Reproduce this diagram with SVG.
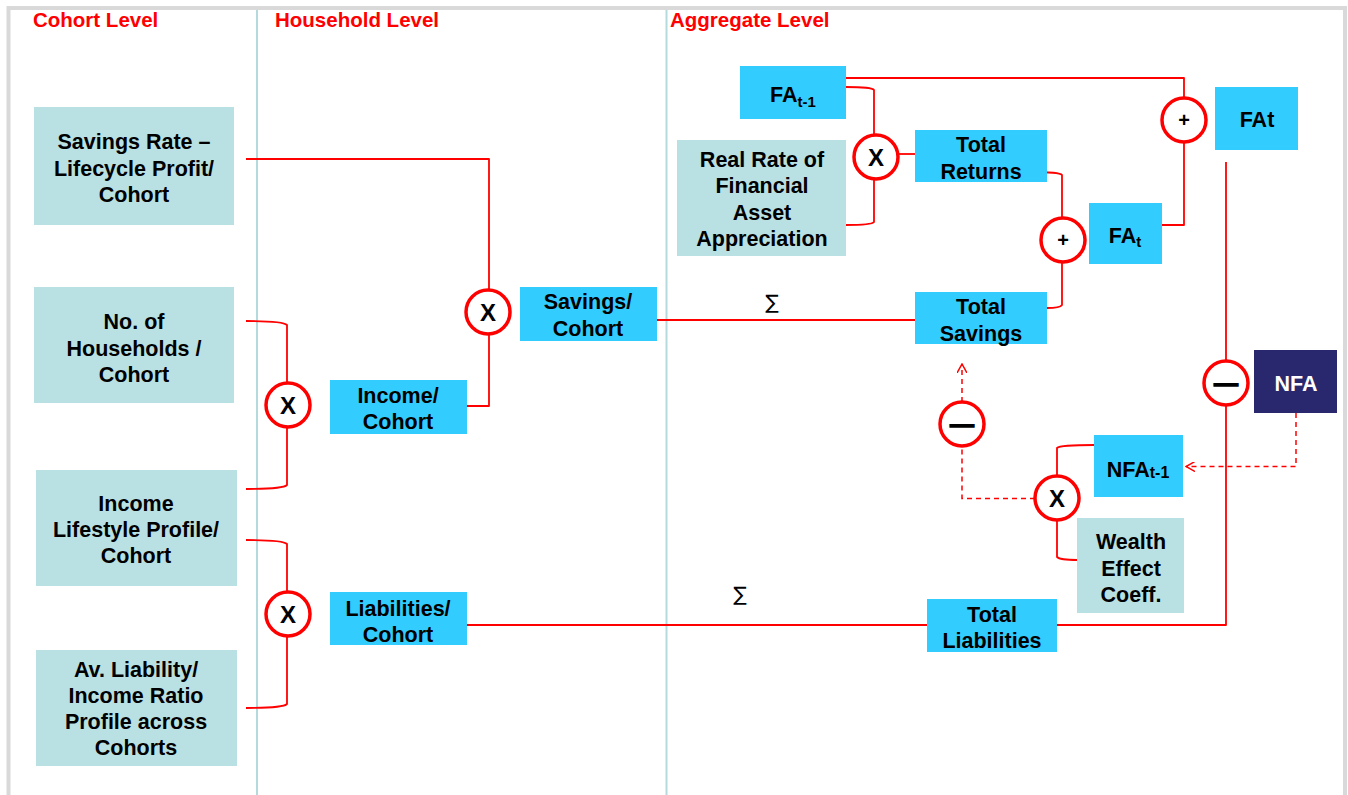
<svg xmlns="http://www.w3.org/2000/svg" width="1348" height="795" viewBox="0 0 1348 795">
<defs>
<style>
.hdr{font-family:"Liberation Sans",Arial,sans-serif;font-weight:bold;font-size:20.5px;fill:#ff0000}
.t{font-family:"Liberation Sans",Arial,sans-serif;font-weight:bold;font-size:21.5px;fill:#000;text-anchor:middle}
.sub{font-size:15px}
.teal{fill:#b9e0e3}
.blue{fill:#33ccff}
.op{fill:#fff;stroke:#ff0000;stroke-width:3.5}
.opt{font-family:"Liberation Sans",Arial,sans-serif;font-weight:bold;fill:#000;text-anchor:middle}
.c{fill:none;stroke:#ff0000;stroke-width:1.8;stroke-linejoin:round}
.d{fill:none;stroke:#ff0000;stroke-width:1.5;stroke-dasharray:5,4}
.div{stroke:#b5dadd;stroke-width:2}
.sig{font-family:"DejaVu Sans","Liberation Sans",sans-serif;font-size:20px;fill:#000;text-anchor:middle}
</style>
<marker id="arr" viewBox="0 0 10 10" refX="9" refY="5" markerWidth="10" markerHeight="10" markerUnits="userSpaceOnUse" orient="auto">
<path d="M0,0 L9,5 L0,10" fill="none" stroke="#ff0000" stroke-width="1.5"/>
</marker>
</defs>
<rect x="0" y="0" width="1348" height="795" fill="#fff"/>
<path d="M8.5,800 V8 H1345 V800" fill="none" stroke="#d9d9d9" stroke-width="4"/>
<g id="dividers">
<line class="div" x1="257" y1="10" x2="257" y2="795"/>
<line class="div" x1="666.5" y1="10" x2="666.5" y2="795"/>
</g>
<g id="headers">
<text class="hdr" x="33" y="27">Cohort Level</text>
<text class="hdr" x="275" y="27">Household Level</text>
<text class="hdr" x="670" y="27">Aggregate Level</text>
</g>

<g id="connectors">
<path class="c" d="M246,159 H489 V290"/>
<path class="c" d="M467,406 H489 V334"/>
<path class="c" d="M246,321 Q283,321 287,325 V383"/>
<path class="c" d="M287,427 V485 Q283,489 246,489"/>
<path class="c" d="M246,540 Q283,540 287,544 V592"/>
<path class="c" d="M287,636 V704 Q283,708 246,708"/>
<path class="c" d="M657,320 H915"/>
<path class="c" d="M467,625 H927"/>
<path class="c" d="M1057,625 H1226 V405"/>
<path class="c" d="M1226,361 V162"/>
<path class="c" d="M846,87 Q872,87 874,90 V135"/>
<path class="c" d="M846,225 Q872,225 874,222 V179"/>
<path class="c" d="M898,154 H915"/>
<path class="c" d="M846,78 H1184 V98"/>
<path class="c" d="M1184,142 V225 H1162"/>
<path class="c" d="M1030,172 Q1060,172 1062,175 V218"/>
<path class="c" d="M1047,308 Q1060,308 1062,305 V262"/>
<path class="c" d="M1094,445 Q1060,445 1057,448 V476"/>
<path class="c" d="M1057,520 V557 Q1060,560 1077,560"/>
<path class="d" d="M1296,413 V466.5 H1186" marker-end="url(#arr)"/>
<path class="d" d="M1035,498.5 H962 V446"/>
<path class="d" d="M962,402 V364" marker-end="url(#arr)"/>
<text class="sig" x="772" y="309">∑</text>
<text class="sig" x="740" y="601">∑</text>
</g>

<g id="n-savings-rate"><rect class="teal" x="34" y="107" width="200" height="118"/>
<text class="t" x="134" y="149">Savings Rate –</text><text class="t" x="134" y="176">Lifecycle Profit/</text><text class="t" x="134" y="202">Cohort</text></g>
<g id="n-households"><rect class="teal" x="34" y="287" width="200" height="116"/>
<text class="t" x="134" y="329">No. of</text><text class="t" x="134" y="356">Households /</text><text class="t" x="134" y="382">Cohort</text></g>
<g id="n-income-profile"><rect class="teal" x="36" y="470" width="201" height="116"/>
<text class="t" x="136" y="511">Income</text><text class="t" x="136" y="537">Lifestyle Profile/</text><text class="t" x="136" y="563">Cohort</text></g>
<g id="n-liability-ratio"><rect class="teal" x="36" y="650" width="201" height="116"/>
<text class="t" x="136" y="677">Av. Liability/</text><text class="t" x="136" y="703">Income Ratio</text><text class="t" x="136" y="729">Profile across</text><text class="t" x="136" y="755">Cohorts</text></g>

<g id="op-x1"><circle class="op" cx="288" cy="405" r="22"/><text class="opt" x="288" y="414" font-size="24">X</text></g>
<g id="op-x2"><circle class="op" cx="488" cy="312" r="22"/><text class="opt" x="488" y="321" font-size="24">X</text></g>
<g id="op-x3"><circle class="op" cx="288" cy="614" r="22"/><text class="opt" x="288" y="623" font-size="24">X</text></g>

<g id="n-income-cohort"><rect class="blue" x="330" y="380" width="137" height="54"/>
<text class="t" x="398" y="403">Income/</text><text class="t" x="398" y="429">Cohort</text></g>
<g id="n-savings-cohort"><rect class="blue" x="520" y="287" width="137" height="54"/>
<text class="t" x="588" y="309">Savings/</text><text class="t" x="588" y="336">Cohort</text></g>
<g id="n-liabilities-cohort"><rect class="blue" x="330" y="592" width="137" height="53"/>
<text class="t" x="398" y="616">Liabilities/</text><text class="t" x="398" y="642">Cohort</text></g>

<g id="n-fa-t1"><rect class="blue" x="740" y="66" width="106" height="53"/>
<text class="t" x="793" y="102">FA<tspan class="sub" dy="5">t-1</tspan></text></g>
<g id="n-real-rate"><rect class="teal" x="677" y="140" width="169" height="116"/>
<text class="t" x="762" y="167">Real Rate of</text><text class="t" x="762" y="193">Financial</text><text class="t" x="762" y="220">Asset</text><text class="t" x="762" y="246">Appreciation</text></g>
<g id="op-x4"><circle class="op" cx="876" cy="157" r="22"/><text class="opt" x="876" y="166" font-size="24">X</text></g>
<g id="n-total-returns"><rect class="blue" x="915" y="130" width="132" height="52"/>
<text class="t" x="981" y="152">Total</text><text class="t" x="981" y="179">Returns</text></g>
<g id="op-plus1"><circle class="op" cx="1184" cy="120" r="22"/><text class="opt" x="1184" y="127" font-size="20">+</text></g>
<g id="n-fat"><rect class="blue" x="1215" y="87" width="83" height="63"/>
<text class="t" x="1257" y="127">FAt</text></g>
<g id="op-plus2"><circle class="op" cx="1063" cy="240" r="22"/><text class="opt" x="1063" y="247" font-size="20">+</text></g>
<g id="n-fa-t"><rect class="blue" x="1089" y="203" width="73" height="61"/>
<text class="t" x="1125" y="243">FA<tspan class="sub" dy="4">t</tspan></text></g>
<g id="n-total-savings"><rect class="blue" x="915" y="292" width="132" height="52"/>
<text class="t" x="981" y="314">Total</text><text class="t" x="981" y="341">Savings</text></g>
<g id="op-minus1"><circle class="op" cx="1226" cy="383" r="22"/><text class="opt" x="1226" y="391" font-size="24" stroke="#000" stroke-width="1.3">—</text></g>
<g id="n-nfa"><rect x="1254" y="350" width="83" height="63" fill="#29286e"/>
<text class="t" x="1296" y="391" style="fill:#fff">NFA</text></g>
<g id="op-minus2"><circle class="op" cx="962" cy="424" r="22"/><text class="opt" x="962" y="432" font-size="24" stroke="#000" stroke-width="1.3">—</text></g>
<g id="n-nfa-t1"><rect class="blue" x="1094" y="435" width="89" height="62"/>
<text class="t" x="1138" y="477">NFA<tspan class="sub" dy="1" style="font-size:16px">t-1</tspan></text></g>
<g id="op-x5"><circle class="op" cx="1057" cy="498" r="22"/><text class="opt" x="1057" y="507" font-size="24">X</text></g>
<g id="n-wealth"><rect class="teal" x="1077" y="518" width="107" height="95"/>
<text class="t" x="1131" y="549">Wealth</text><text class="t" x="1131" y="576">Effect</text><text class="t" x="1131" y="602">Coeff.</text></g>
<g id="n-total-liabilities"><rect class="blue" x="927" y="599" width="130" height="53"/>
<text class="t" x="992" y="622">Total</text><text class="t" x="992" y="648">Liabilities</text></g>
</svg>
